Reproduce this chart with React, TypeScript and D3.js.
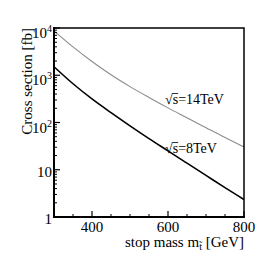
import React from "react";
import * as d3 from "d3";

const masses = [300, 350, 400, 450, 500, 550, 600, 650, 700, 750, 800];
const xs14 = [8710, 3981, 1950, 1023, 575, 339, 204, 126, 77.6, 47.9, 30.2];
const xs8 = [1514, 661, 316, 162, 85.1, 45.7, 25.1, 13.8, 7.59, 4.17, 2.34];
const xMajorTicks = [400, 600, 800];
const xMinorTicks = [300, 350, 450, 500, 550, 650, 700, 750];
const yMajorTicks = [1, 10, 100, 1000, 10000];

const W = 271, H = 272;
const L = 54, R = 244, T = 28, B = 217;
const FONT = "'Liberation Serif', 'DejaVu Serif', serif";

export default function App() {
  const x = d3.scaleLinear().domain([300, 800]).range([L, R]);
  const y = d3.scaleLog().domain([1, 10000]).range([B, T]);
  const curve = (vals: number[]) =>
    d3.line<number>().x((_, i) => x(masses[i])).y((v) => y(v)).curve(d3.curveMonotoneX)(vals) || "";

  const yMinor: number[] = [];
  for (let d = 1; d < 10000; d *= 10) for (let k = 2; k <= 9; k++) yMinor.push(d * k);

  const ylab = (v: number) => {
    const p = Math.round(Math.log10(v));
    if (p === 0) return <tspan>1</tspan>;
    if (p === 1) return <tspan>10</tspan>;
    return (
      <>
        <tspan>10</tspan>
        <tspan dy={-6} fontSize={10}>{p}</tspan>
      </>
    );
  };

  const Sqrt = ({ x0, y0, rest }: { x0: number; y0: number; rest: string }) => (
    <g>
      <text x={x0} y={y0} fontSize={14} fill="#000">√s{rest}</text>
      <line x1={x0 + 7.3} x2={x0 + 13.2} y1={y0 - 10.5} y2={y0 - 10.5} stroke="#000" strokeWidth={0.8} />
    </g>
  );

  return (
    <svg width={W} height={H} style={{ position: "absolute", left: 0, top: 0, background: "#fff" }}
      fontFamily={FONT}>
      <rect x={0} y={0} width={W} height={H} fill="#fff" />
      <path d={curve(xs14)} fill="none" stroke="#8c8c8c" strokeWidth={1.1} />
      <path d={curve(xs8)} fill="none" stroke="#000" strokeWidth={1.6} />
      <rect x={L} y={T} width={R - L} height={B - T} fill="none" stroke="#000" strokeWidth={1.5} />
      <line x1={L} x2={L} y1={T - 1} y2={B + 1} stroke="#000" strokeWidth={2} />
      <line x1={L - 1} x2={R + 1} y1={B} y2={B} stroke="#000" strokeWidth={2} />
      {yMinor.map((v) => (
        <line key={"ym" + v} x1={L} x2={L + 3} y1={y(v)} y2={y(v)} stroke="#000" strokeWidth={1} />
      ))}
      {yMajorTicks.map((v) => (
        <line key={"yM" + v} x1={L} x2={L + 6} y1={y(v)} y2={y(v)} stroke="#000" strokeWidth={1.2} />
      ))}
      {xMinorTicks.map((v) => (
        <line key={"xm" + v} x1={x(v)} x2={x(v)} y1={B} y2={B - 3} stroke="#000" strokeWidth={1} />
      ))}
      {xMajorTicks.map((v) => (
        <line key={"xM" + v} x1={x(v)} x2={x(v)} y1={B} y2={B - 6} stroke="#000" strokeWidth={1.2} />
      ))}
      {yMajorTicks.map((v) => (
        <text key={"yl" + v} x={L - 2} y={y(v) + (v >= 100 ? 10 : 7)} textAnchor="end" fontSize={15} fill="#000">
          {ylab(v)}
        </text>
      ))}
      {xMajorTicks.map((v) => (
        <text key={"xl" + v} x={x(v)} y={232} textAnchor="middle" fontSize={15} fill="#000">
          {v}
        </text>
      ))}
      <text x={R} y={247} textAnchor="end" fontSize={15} fill="#000">
        stop mass m<tspan dy={3} fontSize={10}>t̃</tspan><tspan dy={-3}> [GeV]</tspan>
      </text>
      <text transform={`translate(32, ${T}) rotate(-90)`} textAnchor="end" fontSize={15} fill="#000">
        Cross section [fb]
      </text>
      <Sqrt x0={165} y0={104} rest="=14TeV" />
      <Sqrt x0={165} y0={153} rest="=8TeV" />
    </svg>
  );
}
